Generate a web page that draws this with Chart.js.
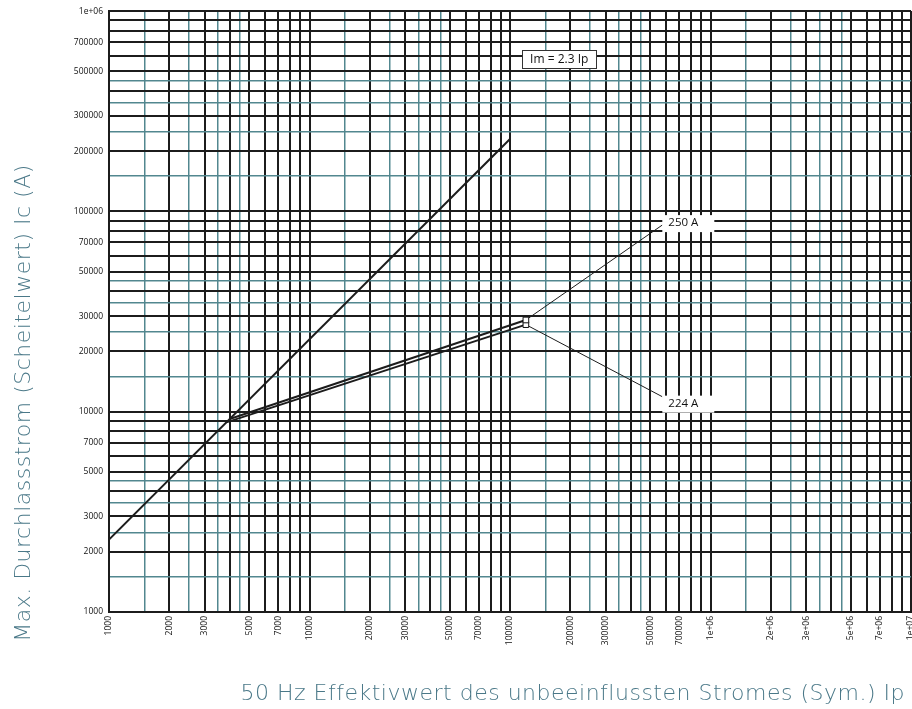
<!DOCTYPE html>
<html>
<head>
<meta charset="utf-8">
<script src="https://cdn.jsdelivr.net/npm/chart.js@4"></script>
<style>
  html, body { margin: 0; padding: 0; background: #fff; overflow: hidden; }
  #wrap { width: 930px; height: 709px; }
</style>
</head>
<body>
<div id="wrap"><canvas id="chart"></canvas></div>
<script>
// Im = 2.3 Ip line
const imX = [1000, 100000];
const imY = [2300, 230000];

// let-through curves of the two fuse ratings
const fuse250X = [4000, 120000];
const fuse250Y = [9200, 28700];
const fuse224X = [3850, 120000];
const fuse224Y = [8850, 27200];

// labelled ticks
const xTickValues = [1000, 2000, 3000, 5000, 7000, 10000, 20000, 30000, 50000, 70000,
  100000, 200000, 300000, 500000, 700000, 1000000, 2000000, 3000000, 5000000, 7000000, 10000000];
const xTickLabels = ['1000', '2000', '3000', '5000', '7000', '10000', '20000', '30000', '50000', '70000',
  '100000', '200000', '300000', '500000', '700000', '1e+06', '2e+06', '3e+06', '5e+06', '7e+06', '1e+07'];
const yTickValues = [1000, 2000, 3000, 5000, 7000, 10000, 20000, 30000, 50000, 70000,
  100000, 200000, 300000, 500000, 700000, 1000000];
const yTickLabels = ['1000', '2000', '3000', '5000', '7000', '10000', '20000', '30000', '50000', '70000',
  '100000', '200000', '300000', '500000', '700000', '1e+06'];

// grid mantissas per decade (x.5 lines are the teal ones)
const gridMantissas = [1, 1.5, 2, 2.5, 3, 3.5, 4, 4.5, 5, 6, 7, 8, 9];

// callouts: label, leader end (x, y), label centre y
const calloutLabels = ['250 A', '224 A'];
const calloutX = [575000, 575000];
const calloutLeaderY = [85500, 11880];
const calloutTextY = [87400, 10970];
const calloutFromX = [fuse250X[1], fuse224X[1]];
const calloutFromY = [fuse250Y[1], fuse224Y[1]];

const boxLabel = 'Im = 2.3 Ip';
const boxX = 176000;
const boxY = 575000;

const xTitle = '50 Hz Effektivwert des unbeeinflussten Stromes (Sym.) Ip';
const yTitle = 'Max. Durchlassstrom (Scheitelwert) Ic (A)';

const black = '#1c1c1c';
const teal = '#52878f';
const titleColor = '#4a7888';

function gridValues(from, to) {
  const out = [];
  for (let e = from; e < to; e++) {
    gridMantissas.forEach(m => out.push(Math.round(m * Math.pow(10, e))));
  }
  out.push(Math.pow(10, to));
  return out;
}

function isHalf(v) {
  const m = v / Math.pow(10, Math.floor(Math.log10(v) + 1e-9));
  return Math.abs(m - Math.round(m)) > 0.1;
}

function toPoints(xs, ys) {
  return xs.map((x, i) => ({ x: x, y: ys[i] }));
}

function gridOpts() {
  return {
    drawTicks: false,
    color: ctx => (ctx.tick && isHalf(ctx.tick.value)) ? teal : black,
    lineWidth: ctx => (ctx.tick && isHalf(ctx.tick.value)) ? 1.5 : 2
  };
}

const annotations = {
  id: 'annotations',
  beforeDatasetsDraw(chart) {
    const ctx = chart.ctx;
    const xs = chart.scales.x;
    const ys = chart.scales.y;
    ctx.save();
    ctx.font = '11.5px "Open Sans", sans-serif';
    ctx.textBaseline = 'middle';
    calloutLabels.forEach((label, i) => {
      const x0 = xs.getPixelForValue(calloutFromX[i]);
      const y0 = ys.getPixelForValue(calloutFromY[i]);
      const x1 = xs.getPixelForValue(calloutX[i]);
      const y1 = ys.getPixelForValue(calloutLeaderY[i]);
      const ty = ys.getPixelForValue(calloutTextY[i]);
      ctx.strokeStyle = black;
      ctx.lineWidth = 1;
      ctx.beginPath();
      ctx.moveTo(x0, y0);
      ctx.lineTo(x1, y1);
      ctx.stroke();
      ctx.fillStyle = '#fff';
      ctx.fillRect(x1, ty - 8, 52, 17);
      ctx.fillStyle = '#111';
      ctx.textAlign = 'left';
      ctx.fillText(label, x1 + 6, ty);
    });
    // Im = 2.3 Ip box
    ctx.font = '12px "Open Sans", sans-serif';
    const bx = xs.getPixelForValue(boxX);
    const by = ys.getPixelForValue(boxY);
    const w = ctx.measureText(boxLabel).width + 16;
    ctx.fillStyle = '#fff';
    ctx.fillRect(bx - w / 2, by - 9, w, 18);
    ctx.strokeStyle = '#333';
    ctx.lineWidth = 1;
    ctx.strokeRect(Math.round(bx - w / 2) + 0.5, Math.round(by - 9) + 0.5, Math.round(w), 18);
    ctx.fillStyle = '#111';
    ctx.textAlign = 'center';
    ctx.fillText(boxLabel, bx, by + 0.5);
    ctx.restore();
  },
  afterDraw(chart) {
    const ctx = chart.ctx;
    ctx.save();
    ctx.fillStyle = titleColor;
    ctx.font = '200 22px "DejaVu Sans", sans-serif';
    ctx.letterSpacing = '0.5px';
    ctx.textBaseline = 'alphabetic';
    ctx.textAlign = 'right';
    ctx.fillText(xTitle, 905, 700);
    ctx.translate(30, 403);
    ctx.rotate(-Math.PI / 2);
    ctx.textAlign = 'center';
    ctx.fillText(yTitle, 0, 0);
    ctx.restore();
  }
};

const lineStyle = {
  borderColor: black,
  borderWidth: 2,
  showLine: true,
  fill: false,
  tension: 0,
  pointStyle: 'rect',
  pointBackgroundColor: '#fff',
  pointBorderColor: '#111',
  pointBorderWidth: 1
};

new Chart(document.getElementById('chart'), {
  type: 'line',
  data: {
    datasets: [
      Object.assign({ label: 'Im = 2.3 Ip', data: toPoints(imX, imY), pointRadius: 0 }, lineStyle),
      Object.assign({ label: '250 A', data: toPoints(fuse250X, fuse250Y), pointRadius: [0, 4] }, lineStyle),
      Object.assign({ label: '224 A', data: toPoints(fuse224X, fuse224Y), pointRadius: [0, 4] }, lineStyle)
    ]
  },
  options: {
    responsive: true,
    maintainAspectRatio: false,
    animation: false,
    layout: { padding: { top: 9.5, right: 19, bottom: 0, left: 0 } },
    plugins: {
      legend: { display: false },
      tooltip: { enabled: false }
    },
    scales: {
      x: {
        type: 'logarithmic',
        min: 1000,
        max: 10000000,
        afterBuildTicks: scale => { scale.ticks = gridValues(3, 7).map(v => ({ value: v })); },
        afterFit: scale => { scale.height = 97; },
        grid: gridOpts(),
        border: { color: black, width: 2 },
        ticks: {
          autoSkip: false,
          minRotation: 90,
          maxRotation: 90,
          padding: 4,
          color: '#111',
          font: { family: '"Open Sans", sans-serif', size: 8.5 },
          callback: value => {
            const i = xTickValues.indexOf(value);
            return i >= 0 ? xTickLabels[i] : '';
          }
        }
      },
      y: {
        type: 'logarithmic',
        min: 1000,
        max: 1000000,
        afterBuildTicks: scale => { scale.ticks = gridValues(3, 6).map(v => ({ value: v })); },
        afterFit: scale => { scale.width = 109; },
        grid: gridOpts(),
        border: { color: black, width: 2 },
        ticks: {
          autoSkip: false,
          padding: 6,
          color: '#111',
          font: { family: '"Open Sans", sans-serif', size: 8.5 },
          callback: value => {
            const i = yTickValues.indexOf(value);
            return i >= 0 ? yTickLabels[i] : '';
          }
        }
      }
    }
  },
  plugins: [annotations]
});
</script>
</body>
</html>
